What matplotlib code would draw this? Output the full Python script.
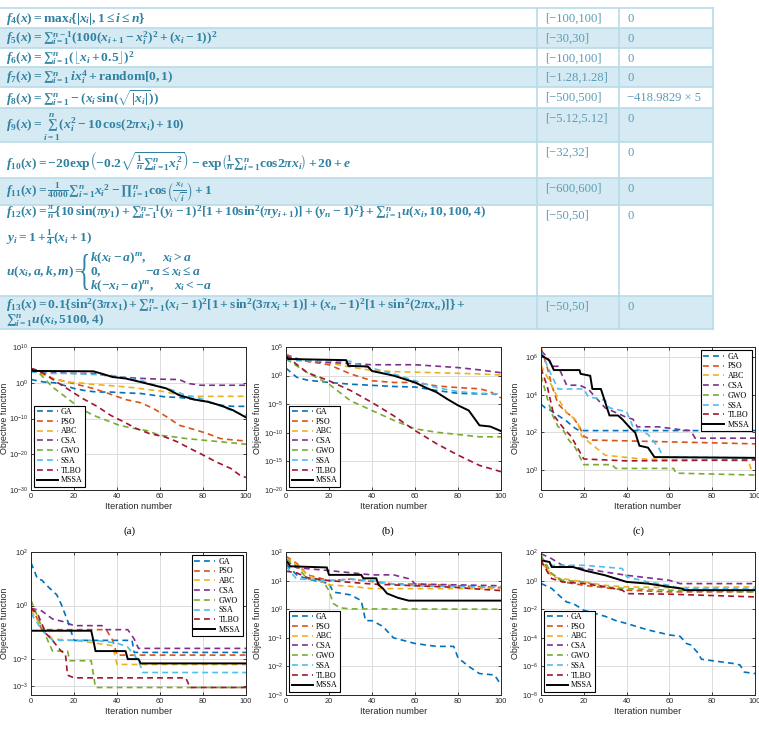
import numpy as np
import matplotlib.pyplot as plt
from matplotlib.patches import Rectangle, PathPatch
from matplotlib.textpath import TextPath
from matplotlib.font_manager import FontProperties
from matplotlib.transforms import Affine2D
from matplotlib.ticker import FixedLocator, NullLocator

plt.rcParams['font.family'] = 'Liberation Sans'
plt.rcParams['mathtext.fontset'] = 'custom'
plt.rcParams['mathtext.rm'] = 'Liberation Serif:bold'
plt.rcParams['mathtext.it'] = 'Liberation Serif:italic:bold'
plt.rcParams['mathtext.bf'] = 'Liberation Serif:bold'

W, H = 759, 729

# ---- table of benchmark functions ----
formulas = [
    r'$f_4(x) = \mathrm{max}_i\{|x_i|, 1 \leq i \leq n\}$',
    r'$f_5(x) = \sum{}_{i=1}^{n-1}(100(x_{i+1} - x_i^2)^2 + (x_i - 1))^2$',
    r'$f_6(x) = \sum{}_{i=1}^{n}(\lfloor x_i + 0.5\rfloor)^2$',
    r'$f_7(x) = \sum{}_{i=1}^{n}\, i x_i^4 + \mathrm{random}[0, 1)$',
    r'$f_8(x) = \sum{}_{i=1}^{n} -(x_i\,\mathrm{sin}(\sqrt{|x_i|}))$',
    r'$f_9(x) = \sum_{i=1}^{n}(x_i^2 - 10\,\mathrm{cos}(2\pi x_i) + 10)$',
    r'$f_{10}(x) = -20\mathrm{exp}\left(-0.2\sqrt{\frac{1}{n}\sum{}_{i=1}^{n}x_i^2}\right) - \mathrm{exp}\left(\frac{1}{n}\sum{}_{i=1}^{n}\mathrm{cos}2\pi x_i\right) + 20 + e$',
    r'$f_{11}(x) = \frac{1}{4000}\sum{}_{i=1}^{n}{x_i}^2 - \prod{}_{i=1}^{n}\mathrm{cos}\left(\frac{x_i}{\sqrt{i}}\right) + 1$',
    r'$f_{12}(x) = \frac{\pi}{n}\{10\,\mathrm{sin}(\pi y_1) + \sum{}_{i=1}^{n-1}(y_i - 1)^2[1 + 10\mathrm{sin}^2(\pi y_{i+1})] + (y_n - 1)^2\} + \sum{}_{i=1}^{n}u(x_i, 10, 100, 4)$',
    r'$f_{13}(x) = 0.1\{\mathrm{sin}^2(3\pi x_1) + \sum{}_{i=1}^{n}(x_i - 1)^2[1 + \mathrm{sin}^2(3\pi x_i + 1)] + (x_n - 1)^2[1 + \mathrm{sin}^2(2\pi x_n)]\} +$',
]
domains = ['[−100,100]', '[−30,30]', '[−100,100]', '[−1.28,1.28]', '[−500,500]',
           '[−5.12,5.12]', '[−32,32]', '[−600,600]', '[−50,50]', '[−50,50]']
minima = ['0', '0', '0', '0', '−418.9829 × 5', '0', '0', '0', '0', '0']
row_h = [20, 20, 19, 20, 21, 34, 36, 27, 91, 33]
formula_dy = [11, 11, 10, 11, 11, 19, 20, 15, 8, 9]

f12_extra = [r'$y_i = 1 + \frac{1}{4}(x_i + 1)$', r'$u(x_i, a, k, m) = $']
cases_left = [r'$k(x_i - a)^m,$', r'$0,$', r'$k(-x_i - a)^m,$']
cases_right = [r'$x_i > a$', r'$-a \leq x_i \leq a$', r'$x_i < -a$']
f13_extra = r'$\sum{}_{i=1}^{n}u(x_i, 5100, 4)$'

# ---- convergence curves: x = iteration, y = log10(objective) ----
algos = ['GA', 'PSO', 'ABC', 'CSA', 'GWO', 'SSA', 'TLBO', 'MSSA']
colors = {'GA': '#0072BD', 'PSO': '#D95319', 'ABC': '#EDB120', 'CSA': '#7E2F8E',
          'GWO': '#77AC30', 'SSA': '#4DBEEE', 'TLBO': '#A2142F', 'MSSA': 'black'}

curves_a = {
    'GA': ([0, 6, 11, 17, 20, 26, 31, 37, 43, 51, 57, 63, 69, 76, 82, 88, 94, 100],
           [0.9, 0.2, 0, -1.0, -1.6, -2.3, -2.6, -2.6, -2.8, -3.0, -3.5, -4.0, -4.1, -4.7, -5.3, -6.3, -6.6, -6.6]),
    'PSO': ([0, 6, 10, 17, 23, 29, 37, 44, 51, 57, 63, 69, 76, 82, 88, 94, 100],
            [4, 2.6, 1.2, 0.2, -0.7, -1.6, -3.2, -4.7, -5.6, -7.2, -9.5, -11.9, -13.1, -14.2, -15.6, -16, -16.3]),
    'ABC': ([0, 4, 10, 17, 23, 29, 35, 41, 48, 54, 60, 66, 72, 79, 100],
            [3.7, 2.6, 1.2, 0.2, -0.05, -0.5, -0.7, -1.0, -1.4, -1.9, -2.3, -3.0, -3.8, -3.8, -3.8]),
    'CSA': ([0, 6, 12, 20, 29, 37, 48, 60, 69, 73, 79, 100],
            [4, 3, 2.8, 2.6, 2.6, 1.8, 1.3, 1.0, 0.9, -0.2, -0.7, -0.7]),
    'GWO': ([0, 4, 10, 17, 23, 29, 35, 41, 48, 54, 60, 66, 72, 79, 88, 100],
            [4, 2.6, -1.2, -4.4, -7.2, -9.1, -10.5, -11.9, -12.8, -13.4, -14.7, -15.1, -15.6, -16, -16.5, -17.2]),
    'SSA': ([0, 9, 20, 29, 37, 44, 52, 58, 66, 72, 79, 85, 91, 97, 100],
            [3.0, 2.6, 2.6, 2.3, 2.1, 1.4, 0.5, -0.7, -2.1, -3.5, -4.4, -5.8, -7.2, -8.6, -9.1]),
    'TLBO': ([0, 6, 12, 18, 24, 31, 37, 43, 49, 55, 62, 68, 74, 80, 86, 93, 97, 100],
             [4, 2.6, 0.2, -2.1, -4.4, -6.7, -9.1, -10.9, -12.8, -14.2, -15.1, -16.5, -18.4, -20.2, -22.1, -24, -25.8, -26.5]),
    'MSSA': ([0, 1, 29, 32, 38, 44, 51, 57, 63, 69, 76, 82, 88, 94, 100],
             [3.7, 3.3, 3.2, 2.7, 1.6, 1.2, 0.2, -0.7, -1.6, -3.5, -4.7, -5.3, -6.3, -7.7, -9.7]),
}
curves_b = {
    'GA': ([0, 5, 10, 20, 30, 40, 50, 60, 70, 80, 90, 100],
           [1.3, -0.3, -0.8, -1.2, -1.5, -1.7, -1.9, -2.0, -2.6, -3.1, -3.2, -3.2]),
    'PSO': ([0, 5, 10, 20, 30, 40, 50, 60, 70, 80, 90, 95, 100],
            [3.7, 3.0, 2.5, 1.9, 0.3, -0.9, -1.2, -1.2, -1.8, -2.1, -2.3, -2.8, -3.9]),
    'ABC': ([0, 10, 20, 30, 40, 50, 70, 90, 100],
            [3.4, 2.5, 2.2, 1.5, 0.9, 0.7, 0.5, 0.3, 0.1]),
    'CSA': ([0, 5, 10, 40, 60, 80, 90, 100],
            [3.4, 2.9, 2.5, 1.9, 1.9, 1.4, 1.0, 0.5]),
    'GWO': ([0, 10, 20, 30, 40, 50, 60, 70, 80, 90, 100],
            [2.9, 0.5, -1.5, -4.4, -6.1, -7.8, -9.3, -9.9, -10.3, -10.7, -10.7]),
    'SSA': ([0, 5, 30, 35, 40, 50, 60, 70, 80, 90, 100],
            [2.9, 2.6, 2.5, 1.7, 1.3, 0.3, -0.9, -2.1, -2.8, -3.1, -3.2]),
    'TLBO': ([0, 10, 20, 30, 40, 50, 60, 70, 80, 90, 100],
             [3.4, 0.5, -0.9, -2.6, -4.7, -7.0, -9.6, -11.9, -13.9, -15.7, -16.8]),
    'MSSA': ([0, 1, 28, 29, 38, 40, 50, 60, 65, 70, 75, 80, 85, 90, 95, 100],
             [3.4, 2.9, 2.7, 1.7, 1.6, 0.8, 0.0, -1.2, -2.1, -2.9, -4.1, -5.2, -6.1, -8.7, -8.9, -9.7]),
}
curves_c = {
    'GA': ([0, 2, 4, 8, 12, 15, 17, 20, 100],
           [3.5, 3.3, 3.2, 2.9, 2.6, 2.3, 2.15, 2.1, 2.1]),
    'PSO': ([0, 3, 5, 8, 12, 15, 18, 20, 24, 100],
            [6.5, 5.4, 4.5, 3.5, 3.05, 2.8, 2.3, 1.8, 1.6, 1.4]),
    'ABC': ([0, 4, 8, 12, 17, 19, 30, 47, 97, 98, 100],
            [5.55, 4.7, 3.8, 3.05, 2.6, 1.8, 0.8, 0.6, 0.5, 0.1, 0.1]),
    'CSA': ([0, 3, 5, 8, 12, 18, 22, 30, 40, 43, 45, 55, 65, 70, 72, 100],
            [6.3, 6.0, 5.5, 5.5, 4.5, 4.5, 4.3, 3.3, 2.8, 2.7, 2.3, 2.3, 2.15, 2.1, 1.7, 1.7]),
    'GWO': ([0, 2, 5, 8, 10, 13, 16, 20, 33, 35, 62, 63, 100],
            [5.0, 4.2, 3.0, 2.3, 2.2, 1.6, 1.2, 0.3, 0.3, 0.1, 0.1, -0.15, -0.25]),
    'SSA': ([0, 5, 8, 20, 22, 30, 32, 40, 43, 50, 55, 57, 100],
            [6.3, 5.0, 4.3, 4.3, 3.9, 3.7, 3.3, 3.1, 2.3, 1.9, 1.2, 0.7, 0.66]),
    'TLBO': ([0, 3, 6, 10, 14, 18, 20, 40, 100],
             [5.4, 4.4, 2.9, 2.3, 1.8, 1.0, 0.6, 0.5, 0.55]),
    'MSSA': ([0, 2, 4, 6, 18, 18.5, 23, 24, 28, 30, 32, 36, 38, 42, 44, 46, 50, 53, 100],
             [6.1, 5.95, 5.8, 5.3, 5.3, 5.1, 5.0, 4.3, 4.3, 3.6, 2.9, 2.9, 2.7, 2.2, 2.0, 1.3, 1.2, 0.7, 0.66]),
}
curves_d = {
    'GA': ([0, 3, 5, 8, 12, 14, 17, 20, 47, 48, 100],
           [1.6, 1.0, 0.95, 0.7, 0.4, 0.06, -0.56, -1.3, -1.3, -1.75, -1.75]),
    'PSO': ([0, 3, 5, 35, 38, 40, 100],
            [-0.06, -0.5, -0.9, -0.9, -1.3, -1.85, -1.85]),
    'ABC': ([0, 5, 10, 20, 30, 38, 40, 100],
            [-0.2, -0.8, -1.25, -1.3, -1.4, -1.5, -2.2, -2.2]),
    'CSA': ([0, 5, 10, 15, 20, 33, 35, 45, 48, 50, 100],
            [-0.1, -0.2, -0.5, -0.6, -0.75, -0.75, -0.9, -0.9, -1.25, -1.6, -1.6]),
    'GWO': ([0, 5, 10, 17, 18, 28, 30, 100],
            [0.2, -0.8, -1.7, -1.7, -2.06, -2.06, -3.06, -3.06]),
    'SSA': ([0, 5, 10, 20, 30, 40, 45, 50, 52, 100],
            [-0.3, -0.9, -1.3, -1.3, -1.3, -1.4, -1.55, -2.06, -2.5, -2.5]),
    'TLBO': ([0, 3, 7, 10, 14, 16, 17, 20, 72, 74, 100],
             [-0.1, -0.3, -1.05, -1.3, -1.7, -1.8, -2.6, -2.7, -2.7, -3.06, -3.06]),
    'MSSA': ([0, 28, 29, 30, 44, 45, 50, 51, 100],
             [-0.94, -0.94, -1.3, -1.7, -1.7, -2.0, -2.0, -2.16, -2.16]),
}
curves_e = {
    'GA': ([0, 5, 10, 20, 22, 30, 35, 37, 40, 45, 50, 60, 70, 78, 80, 85, 90, 97, 100],
           [1.57, 1.2, 1.05, 0.9, 0.6, 0.5, 0.3, -0.4, -0.4, -0.6, -1.0, -1.2, -1.3, -1.3, -1.7, -2.0, -2.25, -2.3, -2.65]),
    'PSO': ([0, 5, 10, 20, 30, 50, 60, 100],
            [1.85, 1.6, 1.2, 1.0, 1.05, 0.88, 0.88, 0.76]),
    'ABC': ([0, 5, 10, 20, 30, 40, 100],
            [1.8, 1.55, 1.2, 0.85, 0.8, 0.72, 0.72]),
    'CSA': ([0, 5, 20, 40, 50, 58, 60, 100],
            [1.7, 1.45, 1.35, 1.2, 1.2, 1.05, 0.88, 0.82]),
    'GWO': ([0, 5, 10, 17, 20, 22, 25, 30, 100],
            [1.75, 1.5, 1.05, 1.0, 0.65, 0.2, 0.05, 0.01, 0.0]),
    'SSA': ([0, 5, 10, 20, 30, 40, 50, 60, 100],
            [1.5, 1.05, 1.05, 1.0, 1.05, 1.0, 0.88, 0.82, 0.76]),
    'TLBO': ([0, 5, 10, 20, 40, 60, 80, 90, 100],
             [1.33, 1.27, 1.1, 1.0, 0.88, 0.82, 0.76, 0.7, 0.65]),
    'MSSA': ([0, 2, 19, 20, 35, 36, 42, 43, 45, 47, 52, 57, 100],
             [1.7, 1.5, 1.46, 1.2, 1.2, 1.08, 1.08, 0.85, 0.73, 0.55, 0.4, 0.3, 0.3]),
}
curves_f = {
    'GA': ([0, 5, 10, 12, 15, 20, 30, 35, 40, 50, 60, 65, 68, 70, 73, 75, 80, 90, 93, 95, 100],
           [-0.2, -0.55, -1.25, -1.5, -1.6, -2.07, -2.5, -2.8, -3.0, -3.45, -3.8, -3.9, -4.4, -4.5, -5.0, -5.5, -5.6, -5.8, -5.9, -6.4, -6.5]),
    'PSO': ([0, 3, 5, 10, 20, 40, 60, 100],
            [1.77, 0.72, 0.49, -0.09, -0.33, -0.67, -0.79, -0.79]),
    'ABC': ([0, 3, 5, 10, 20, 30, 40, 60, 100],
            [1.19, 0.84, 0.26, 0.14, -0.09, -0.33, -0.44, -0.49, -0.44]),
    'CSA': ([0, 5, 10, 20, 30, 40, 60, 65, 100],
            [1.88, 1.53, 1.07, 0.84, 0.6, 0.37, 0.02, -0.21, -0.21]),
    'GWO': ([0, 5, 10, 20, 30, 40, 60, 100],
            [1.77, 0.49, 0.02, -0.09, -0.44, -0.56, -0.67, -0.79]),
    'SSA': ([0, 5, 20, 30, 38, 40, 50, 60, 65, 100],
            [1.53, 1.07, 1.07, 0.95, 0.84, 0.26, -0.09, -0.33, -0.56, -0.56]),
    'TLBO': ([0, 3, 5, 10, 20, 30, 38, 40, 60, 100],
             [1.42, 0.6, 0.14, -0.09, -0.21, -0.44, -0.67, -0.91, -0.95, -1.14]),
    'MSSA': ([0, 4, 5, 15, 20, 30, 35, 40, 50, 60, 66, 67, 100],
             [1.42, 1.3, 0.95, 0.95, 0.72, 0.37, 0.14, -0.09, -0.21, -0.44, -0.56, -0.67, -0.67]),
}

panels = [
    # curves, ylim exponents, ytick exponents, legend loc, caption
    (curves_a, (-30, 10), [-30, -20, -10, 0, 10], 'lower left', '(a)'),
    (curves_b, (-20, 5), [-20, -15, -10, -5, 0, 5], 'lower left', '(b)'),
    (curves_c, (-1.04, 6.52), [0, 2, 4, 6], 'upper right', '(c)'),
    (curves_d, (-3.34, 2), [-3, -2, 0, 2], 'upper right', None),
    (curves_e, (-3, 2), [-3, -2, -1, 0, 1, 2], 'lower left', None),
    (curves_f, (-8, 2), [-8, -6, -4, -2, 0, 2], 'lower left', None),
]
# axes boxes in pixels: left, top, right, bottom; y-label centre x; caption x
boxes = [(31, 347, 246, 490), (286, 347, 501, 490), (541, 347, 755, 490),
         (31, 552, 246, 695), (286, 552, 501, 695), (541, 552, 755, 695)]
ylabel_x = [5, 258, 516, 5, 258, 516]
caption_x = [130, 388, 638, 0, 0, 0]

fig = plt.figure(figsize=(W / 100, H / 100), dpi=100)

tab = fig.add_axes([0, 0, 1, 1], zorder=-1)
tab.set_xlim(0, W)
tab.set_ylim(H, 0)
tab.axis('off')

txt_col = '#2f82a2'
dom_col = '#5c9db8'
line_col = '#b8dbe8'
fs = 9.7
col_x = [0, 537, 619, 713]
y = 8
tab.plot([0, col_x[3]], [y, y], color=line_col, lw=1.2)
for i, h in enumerate(row_h):
    fc = '#d5eaf2' if i % 2 == 1 else 'white'
    tab.add_patch(Rectangle((0, y), col_x[3], h, fc=fc, ec='none'))
    tab.plot([0, col_x[3]], [y + h, y + h], color=line_col, lw=1.2)
    tab.text(6, y + formula_dy[i], formulas[i], color=txt_col, fontsize=fs, va='center')
    tab.text(col_x[1] + 8, y + 11, domains[i], color=dom_col, fontsize=9.1,
             family='Liberation Serif', va='center')
    tab.text(col_x[2] + 8, y + 11, minima[i], color=dom_col, fontsize=9.1,
             family='Liberation Serif', va='center')
    if i == 8:
        tab.text(6, y + 33, f12_extra[0], color=txt_col, fontsize=fs, va='center')
        tab.text(6, y + 67, f12_extra[1], color=txt_col, fontsize=fs, va='center')
        # tall left brace of the piecewise definition
        tp = TextPath((0, 0), '{', size=1, prop=FontProperties(family='Liberation Serif'))
        ext = tp.get_extents()
        tr = (Affine2D().translate(-ext.x0, -ext.y0)
              .scale(7 / ext.width, -36 / ext.height).translate(81, y + 85))
        tab.add_patch(PathPatch(tr.transform_path(tp), fc=txt_col, ec='none'))
        for k in range(3):
            tab.text(90, y + 53 + 14 * k, cases_left[k], color=txt_col, fontsize=fs, va='center')
            tab.text([162, 145, 174][k], y + 53 + 14 * k, cases_right[k], color=txt_col,
                     fontsize=fs, va='center')
    if i == 9:
        tab.text(6, y + 25, f13_extra, color=txt_col, fontsize=fs, va='center')
    y += h
for cx in col_x[1:]:
    tab.plot([cx, cx], [8, y], color=line_col, lw=1.2)

for k, ((curves, ylim, yt, loc, cap), (l, t, r, b)) in enumerate(zip(panels, boxes)):
    ax = fig.add_axes([l / W, (H - b) / H, (r - l) / W, (b - t) / H])
    for name in algos:
        xs, ls = curves[name]
        if name == 'MSSA':
            ax.semilogy(xs, 10.0 ** np.array(ls), color=colors[name], lw=1.4, label=name)
        else:
            ax.semilogy(xs, 10.0 ** np.array(ls), color=colors[name], lw=1.2,
                        ls=(0, (3.5, 2.5)), label=name)
    ax.set_xlim(0, 100)
    ax.set_ylim(10.0 ** ylim[0], 10.0 ** ylim[1])
    ax.set_xticks([0, 20, 40, 60, 80, 100])
    ax.yaxis.set_major_locator(FixedLocator([10.0 ** e for e in yt]))
    ax.yaxis.set_minor_locator(NullLocator())
    ax.grid(True, color='#dcdcdc', lw=0.7)
    ax.tick_params(direction='in', top=True, right=True, labelsize=5.3,
                   length=2.5, width=0.6, colors='#262626', pad=2)
    for s in ax.spines.values():
        s.set_linewidth(0.7)
        s.set_color('#262626')
    ax.set_xlabel('Iteration number', fontsize=6.6, color='#262626', labelpad=1.5)
    ax.set_ylabel('Objective function', fontsize=6.4, color='#262626', va='center')
    ax.yaxis.set_label_coords((ylabel_x[k] - l) / (r - l), 0.5)
    leg = ax.legend(loc=loc, prop={'family': 'Liberation Serif', 'size': 5.8},
                    fancybox=False, edgecolor='black', framealpha=1, borderpad=0.3,
                    labelspacing=0.22, handlelength=2.6, handletextpad=0.4,
                    borderaxespad=0.4)
    leg.get_frame().set_linewidth(0.8)
    if cap:
        fig.text(caption_x[k] / W, 1 - 531 / H, cap,
                 family='Liberation Serif', fontsize=7.8, ha='center', va='center')

fig.savefig('out.png', dpi=100)
